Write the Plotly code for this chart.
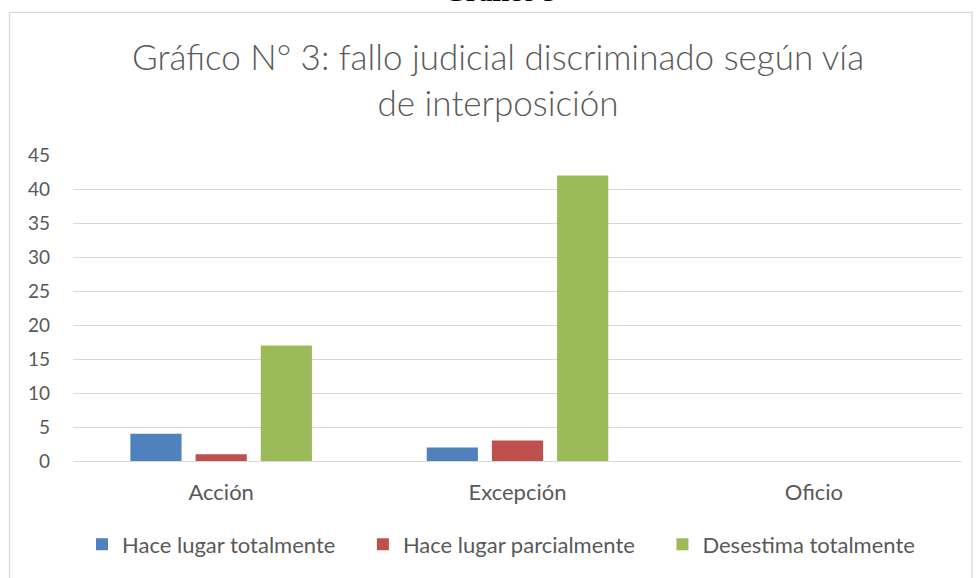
import plotly.graph_objects as go

categories = ["Acción", "Excepción", "Oficio"]
series_names = ["Hace lugar totalmente", "Hace lugar parcialmente", "Desestima totalmente"]
hace_total = [4, 2, 0]
hace_parcial = [1, 3, 0]
desestima = [17, 42, 0]
colors = ["#4F81BD", "#C0504D", "#9BBB59"]
y_ticks = [0, 5, 10, 15, 20, 25, 30, 35, 40, 45]

W, H = 976, 578
L, R, T, B = 73, 14, 155, 115
pw, ph = W - L - R, H - T - B

def px(x):
    return (x - L) / pw

def py(y):
    return (H - B - y) / ph

FONT = "Lato, Open Sans, sans-serif"
PAD = "\u00a0" * 4

fig = go.Figure()
for i, (name, vals, c) in enumerate(zip(series_names, [hace_total, hace_parcial, desestima], colors)):
    label = name + (PAD if i < len(series_names) - 1 else "")
    fig.add_trace(go.Bar(x=categories, y=vals, name=label, marker=dict(color=c, line=dict(width=0))))

fig.update_layout(
    width=W, height=H,
    margin=dict(l=L, r=R, t=T, b=B),
    paper_bgcolor="white", plot_bgcolor="white",
    barmode="group", bargap=0.34, bargroupgap=0.215,
    font=dict(family=FONT, color="#595959", size=18),
    showlegend=True,
    legend=dict(orientation="h", x=px(82), xanchor="left", y=py(547), yanchor="middle",
                font=dict(size=22, color="#595959"), itemwidth=30, traceorder="normal"),
    xaxis=dict(showgrid=False, showline=False, ticks="", tickfont=dict(size=22, color="#595959"),
               ticklabelstandoff=16),
    yaxis=dict(range=[0, 45], tickvals=y_ticks, showgrid=True, gridcolor="#D9D9D9", gridwidth=1.3,
               zeroline=True, zerolinecolor="#D9D9D9", zerolinewidth=1.3, showline=False,
               tickfont=dict(size=19, color="#595959"), ticklabelstandoff=22),
)

# chart border
fig.add_shape(type="rect", xref="paper", yref="paper",
              x0=px(9.5), x1=px(972), y0=py(600), y1=py(11.5),
              line=dict(color="#D9D9D9", width=1.3), fillcolor="rgba(0,0,0,0)", layer="below")

# title
fig.add_annotation(xref="paper", yref="paper", x=px(498), y=py(78), xanchor="center", yanchor="middle",
                   text="Gráfico N° 3: fallo judicial discriminado según vía<br>de interposición",
                   showarrow=False, font=dict(size=35, color="#595959", family=FONT, weight=300),
                   align="center")

# document caption, cut off at top
fig.add_annotation(xref="paper", yref="paper", x=px(500), y=py(8), xanchor="center", yanchor="bottom",
                   text="<b>Gráfico 3</b>", showarrow=False,
                   font=dict(size=28, color="black", family="Liberation Serif, Times New Roman, serif"))

fig.write_html("out.html", post_script="document.body.style.margin='0';",
               config={"displayModeBar": False})
